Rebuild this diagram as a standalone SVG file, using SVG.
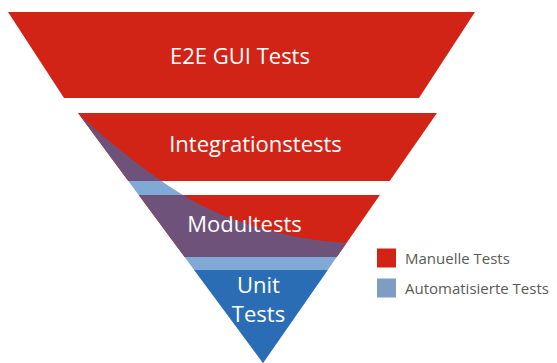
<svg xmlns="http://www.w3.org/2000/svg" width="557" height="363" viewBox="0 0 557 363">
  <style>
    .manual { fill: #d12417; }
    .mixed { fill: #6e527a; }
    .gap { fill: #80a9d6; }
    .unit { fill: #2a6db5; }
    .label { font-family: "Open Sans", "Liberation Sans", sans-serif; font-size: 22px; fill: #ffffff; text-anchor: middle; }
    .legend-text { font-family: "Open Sans", "Liberation Sans", sans-serif; font-size: 15px; fill: #5a5a5a; }
  </style>
  <defs>
    <!-- share of automated tests, running from the upper left down to the tip -->
    <path id="automated" d="M78,113 C105,140 155,178 183,195 C233,226 300,241 346.5,243 L263,363 Z"/>
    <clipPath id="clip-integration">
      <path d="M78,113 H437 L389.7,181 H128.3 Z"/>
    </clipPath>
    <clipPath id="clip-module">
      <path d="M138.7,195 H379.9 L336.8,257 H184.6 Z"/>
    </clipPath>
  </defs>

  <rect width="557" height="363" fill="#ffffff"/>

  <!-- automated share seen through the gaps between layers -->
  <use href="#automated" class="gap"/>

  <g id="e2e">
    <path class="manual" d="M8,12 H475 L419,98 H64 Z"/>
    <text class="label" x="240" y="64">E2E GUI Tests</text>
  </g>

  <g id="integration">
    <path class="manual" d="M78,113 H437 L389.7,181 H128.3 Z"/>
    <use href="#automated" class="mixed" clip-path="url(#clip-integration)"/>
    <text class="label" x="255.5" y="152">Integrationstests</text>
  </g>

  <g id="module">
    <path class="manual" d="M138.7,195 H379.9 L336.8,257 H184.6 Z"/>
    <use href="#automated" class="mixed" clip-path="url(#clip-module)"/>
    <text class="label" x="244.5" y="232">Modultests</text>
  </g>

  <g id="unit">
    <path class="unit" d="M194.2,270 H327.7 L263,363 Z"/>
    <text class="label" x="258.5" y="293">Unit</text>
    <text class="label" x="258.5" y="322">Tests</text>
  </g>

  <g id="connectors"/>

  <g id="legend-manual">
    <rect class="manual" x="377" y="248.5" width="19" height="19"/>
    <text class="legend-text" x="405" y="263.5">Manuelle Tests</text>
  </g>
  <g id="legend-automated">
    <rect x="377" y="278.5" width="19" height="19" fill="#7f9dc4"/>
    <text class="legend-text" x="405" y="293.5">Automatisierte Tests</text>
  </g>
</svg>
